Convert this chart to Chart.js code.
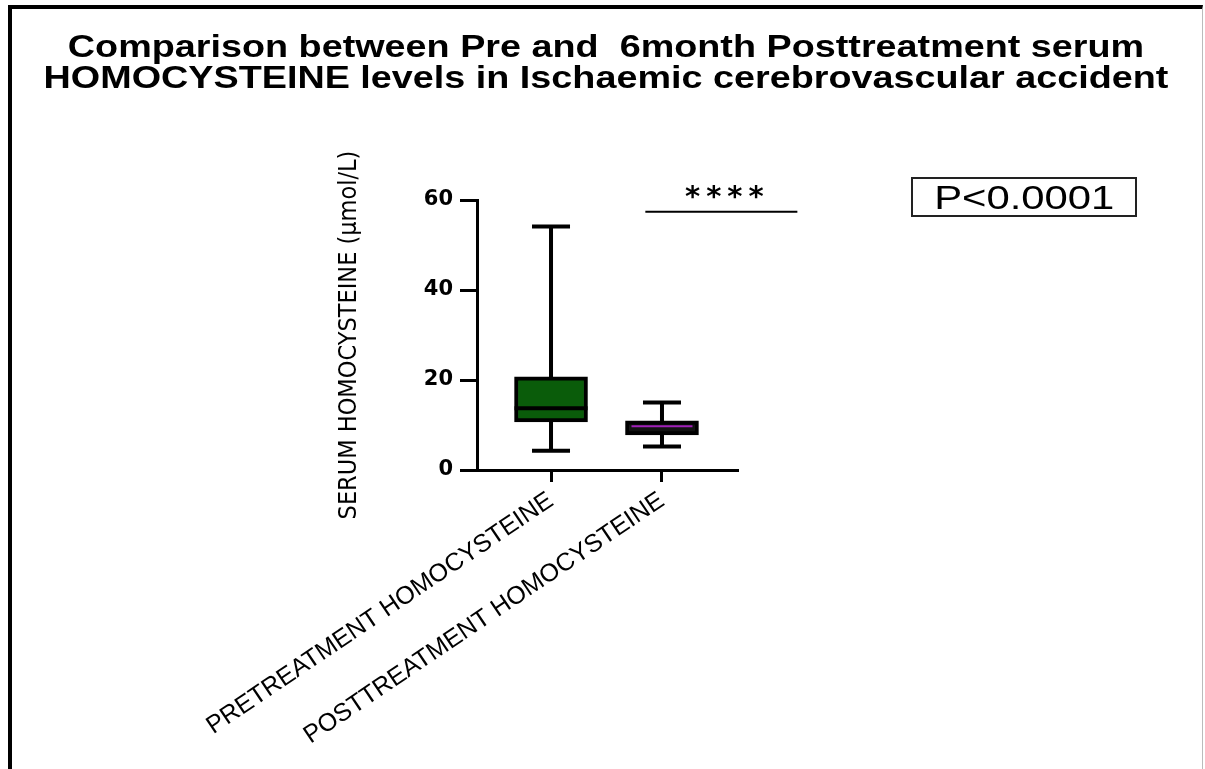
<!DOCTYPE html>
<html>
<head>
<meta charset="utf-8">
<script src="https://cdn.jsdelivr.net/npm/chart.js@4.4.1/dist/chart.umd.min.js"></script>
<style>
  html, body { margin: 0; padding: 0; background: #fff; }
  #wrap { position: relative; width: 1205px; height: 769px; overflow: hidden; background: #fff; }
  #c { position: absolute; left: 0; top: 0; }
  #frame { position: absolute; left: 8px; top: 5px; width: 1190px; height: 800px;
           border-top: 4px solid #000; border-left: 4px solid #000; border-right: 1px solid #bbb;
           pointer-events: none; }
  #title { position: absolute; left: 0; top: 31px; width: 1212px; text-align: center;
           font: bold 32px 'Liberation Sans', Arial, sans-serif; line-height: 31px;
           white-space: pre; color: #000; transform: scaleX(1.18); transform-origin: 606px 0; }
  #pbox { position: absolute; left: 911px; top: 177px; width: 222px; height: 36px;
          border: 2px solid #222; text-align: center;
          font: 34px 'Liberation Sans', Arial, sans-serif; line-height: 37px; color: #000; }
  #pbox span { display: inline-block; transform: scaleX(1.23); }
</style>
</head>
<body>
<div id="wrap">
  <canvas id="c" width="1205" height="769"></canvas>
  <div id="frame"></div>
  <div id="title">Comparison between Pre and  6month Posttreatment serum
HOMOCYSTEINE levels in Ischaemic cerebrovascular accident</div>
  <div id="pbox"><span>P&lt;0.0001</span></div>
</div>
<script>
// ---- data ----
const categories = ['PRETREATMENT HOMOCYSTEINE', 'POSTTREATMENT HOMOCYSTEINE'];
const positions = [1, 2];
const minValues = [4.3, 5.2];
const q1Values = [10.7, 7.8];
const medianValues = [13.7, 9.7];
const q3Values = [20.7, 10.9];
const maxValues = [54.1, 15.0];
const yTicks = [0, 20, 40, 60];
const yTitle = 'SERUM HOMOCYSTEINE (\u00b5mol/L)';
const boxColors = ['#0a5c0a', '#111111'];
const medianColors = ['#000000', '#a020b8'];
const sigLabel = '****';
const sigRange = [1.85, 3.22];
const sigLevel = [57.4];

const boxParts = {
  id: 'boxParts',
  beforeDatasetsDraw(chart) {
    const { ctx, scales: { x, y } } = chart;
    ctx.save();
    ctx.strokeStyle = '#000';
    ctx.lineWidth = 4;
    ctx.lineCap = 'butt';
    positions.forEach((p, i) => {
      const px = x.getPixelForValue(p);
      const yMin = y.getPixelForValue(minValues[i]);
      const yMax = y.getPixelForValue(maxValues[i]);
      ctx.beginPath();
      ctx.moveTo(px, yMin); ctx.lineTo(px, yMax);
      ctx.moveTo(px - 19, yMin); ctx.lineTo(px + 19, yMin);
      ctx.moveTo(px - 19, yMax); ctx.lineTo(px + 19, yMax);
      ctx.stroke();
    });
    ctx.restore();
  },
  afterDatasetsDraw(chart) {
    const { ctx, scales: { y } } = chart;
    const meta = chart.getDatasetMeta(0);
    ctx.save();
    positions.forEach((p, i) => {
      const bar = meta.data[i];
      const my = y.getPixelForValue(medianValues[i]);
      ctx.beginPath();
      ctx.strokeStyle = medianColors[i];
      ctx.lineWidth = i === 0 ? 4 : 2;
      const inset = i === 0 ? 0 : 6;
      ctx.moveTo(bar.x - bar.width / 2 + inset, my);
      ctx.lineTo(bar.x + bar.width / 2 - inset, my);
      ctx.stroke();
    });
    ctx.restore();
  },
  afterDraw(chart) {
    const { ctx, scales: { x, y } } = chart;
    const x1 = x.getPixelForValue(sigRange[0]);
    const x2 = x.getPixelForValue(sigRange[1]);
    const sy = y.getPixelForValue(sigLevel[0]);
    ctx.save();
    ctx.strokeStyle = '#000';
    ctx.lineWidth = 2;
    ctx.beginPath();
    ctx.moveTo(x1, sy); ctx.lineTo(x2, sy);
    ctx.stroke();
    ctx.fillStyle = '#000';
    ctx.font = 'bold 29px "DejaVu Sans", sans-serif';
    ctx.textAlign = 'center';
    ctx.textBaseline = 'alphabetic';
    try { ctx.letterSpacing = '6px'; } catch (e) {}
    ctx.fillText(sigLabel, (x1 + x2) / 2 + 6, sy - 6);
    ctx.restore();
  }
};

new Chart(document.getElementById('c'), {
  type: 'bar',
  data: {
    datasets: [{
      data: positions.map((p, i) => ({ x: p, y: [q1Values[i], q3Values[i]] })),
      backgroundColor: boxColors,
      borderColor: '#000',
      borderWidth: 4,
      borderSkipped: false,
      barThickness: 73
    }]
  },
  options: {
    responsive: false,
    animation: false,
    events: [],
    layout: { padding: { top: 200, left: 334, right: 468, bottom: 0 } },
    plugins: { legend: { display: false }, tooltip: { enabled: false }, title: { display: false } },
    scales: {
      x: {
        type: 'linear', min: 0.333, max: 2.676, offset: false,
        afterBuildTicks: s => { s.ticks = positions.map(v => ({ value: v })); },
        afterFit: s => { s.height = 299; },
        ticks: {
          callback: (v, idx) => categories[idx],
          autoSkip: false, minRotation: 34, maxRotation: 34,
          color: '#000', padding: 4,
          font: { family: "'Liberation Sans', Arial, sans-serif", size: 25 }
        },
        grid: { drawOnChartArea: false, offset: false, color: '#000', lineWidth: 3, tickLength: 12 },
        border: { color: '#000', width: 3 }
      },
      y: {
        min: 0, max: 60,
        afterBuildTicks: s => { s.ticks = yTicks.map(v => ({ value: v })); },
        afterFit: s => { s.width = 143; },
        ticks: { color: '#000', padding: 7, font: { family: "'DejaVu Sans', sans-serif", weight: 'bold', size: 21 } },
        grid: { drawOnChartArea: false, color: '#000', lineWidth: 3, tickLength: 17 },
        border: { color: '#000', width: 3 },
        title: {
          display: true, text: yTitle, color: '#000',
          font: { family: "'Liberation Sans Narrow', 'DejaVu Sans Condensed', sans-serif", size: 25 },
          padding: { top: 0, bottom: 50 }
        }
      }
    }
  },
  plugins: [boxParts]
});
</script>
</body>
</html>
